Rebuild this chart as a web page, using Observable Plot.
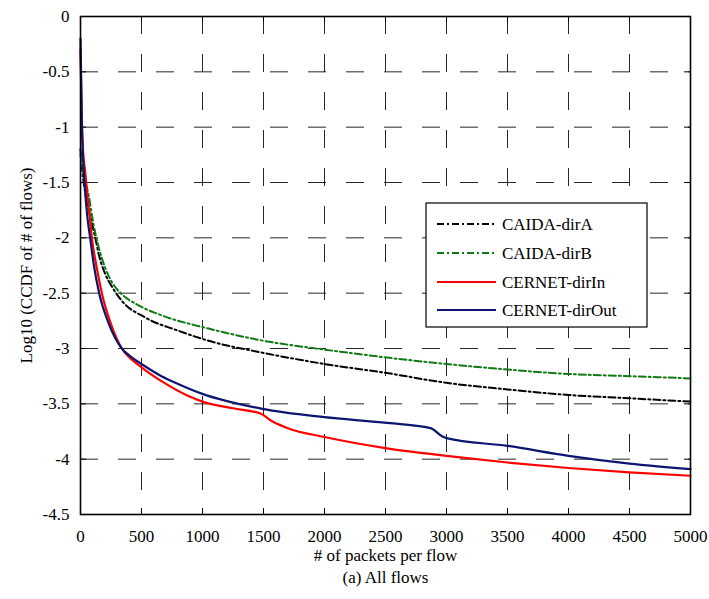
<!DOCTYPE html>
<html>
<head>
<meta charset="utf-8">
<script src="https://cdn.jsdelivr.net/npm/d3@7"></script>
<script src="https://cdn.jsdelivr.net/npm/@observablehq/plot@0.6"></script>
<style>
  html, body { margin: 0; padding: 0; background: #fff; }
  #chart { width: 709px; height: 599px; }
  svg { font-family: "Liberation Serif", "DejaVu Serif", serif; }
</style>
</head>
<body>
<div id="chart"></div>
<script>
const seriesNames = ["CAIDA-dirA", "CAIDA-dirB", "CERNET-dirIn", "CERNET-dirOut"];
const seriesColors = ["#000000", "#0f7a12", "#ff0000", "#0c1670"];
const seriesDash = ["7,3,2,3", "7,3,2,3", null, null];

const xTicks = [0, 500, 1000, 1500, 2000, 2500, 3000, 3500, 4000, 4500, 5000];
const yTicks = [0, -0.5, -1, -1.5, -2, -2.5, -3, -3.5, -4, -4.5];
const yTickLabels = ["0", "-0.5", "-1", "-1.5", "-2", "-2.5", "-3", "-3.5", "-4", "-4.5"];

const caidaA_x = [0, 15, 40, 70, 100, 125, 150, 200, 257, 339, 530, 803, 1050, 1500, 2000, 2500, 3000, 3500, 4000, 4500, 5000];
const caidaA_y = [-1.2, -1.4, -1.6, -1.76, -1.9, -2.02, -2.15, -2.32, -2.44, -2.57, -2.72, -2.84, -2.93, -3.04, -3.14, -3.22, -3.31, -3.37, -3.42, -3.45, -3.48];

const caidaB_x = [0, 20, 66, 107, 148, 202, 257, 339, 476, 664, 1050, 1500, 2000, 2500, 3000, 3500, 4000, 4500, 5000];
const caidaB_y = [-1.25, -1.4, -1.61, -1.88, -2.08, -2.27, -2.4, -2.51, -2.61, -2.7, -2.82, -2.93, -3.01, -3.08, -3.14, -3.19, -3.23, -3.25, -3.27];

const cernetIn_x = [0, 10, 20, 38, 55, 75, 93, 130, 175, 250, 339, 420, 500, 600, 700, 885, 1000, 1250, 1480, 1560, 1700, 2000, 2500, 3000, 3500, 4000, 4500, 5000];
const cernetIn_y = [-0.3, -0.9, -1.2, -1.4, -1.6, -1.8, -2.0, -2.25, -2.5, -2.78, -3.0, -3.1, -3.17, -3.25, -3.32, -3.43, -3.48, -3.54, -3.59, -3.65, -3.72, -3.8, -3.9, -3.97, -4.03, -4.08, -4.12, -4.15];

const cernetOut_x = [0, 10, 20, 33, 55, 79, 110, 153, 230, 339, 420, 500, 664, 800, 1000, 1490, 2000, 2490, 2870, 2960, 3000, 3500, 4000, 4500, 5000];
const cernetOut_y = [-0.2, -0.9, -1.25, -1.5, -1.8, -2.0, -2.25, -2.5, -2.77, -3.0, -3.08, -3.14, -3.25, -3.32, -3.41, -3.545, -3.62, -3.67, -3.72, -3.79, -3.81, -3.88, -3.97, -4.04, -4.09];

const allX = [caidaA_x, caidaB_x, cernetIn_x, cernetOut_x];
const allY = [caidaA_y, caidaB_y, cernetIn_y, cernetOut_y];

const W = 709, H = 599, mL = 80, mR = 19, mT = 16, mB = 85;
const plotW = W - mL - mR, plotH = H - mT - mB;

const lineMarks = seriesNames.map((name, i) => {
  const data = allX[i].map((x, j) => ({x, y: allY[i][j]}));
  return Plot.line(data, {
    x: "x", y: "y",
    curve: "monotone-x",
    stroke: seriesColors[i],
    strokeWidth: i < 2 ? 2 : 2.2,
    strokeDasharray: seriesDash[i] || undefined
  });
});

const fontSize = 17;

const chart = Plot.plot({
  width: W,
  height: H,
  marginLeft: mL,
  marginRight: mR,
  marginTop: mT,
  marginBottom: mB,
  style: {fontFamily: '"Liberation Serif", serif', fontSize: fontSize + "px", background: "#fff", color: "#000"},
  x: {domain: [0, 5000]},
  y: {domain: [-4.5, 0]},
  marks: [
    Plot.gridX(xTicks, {stroke: "#000", strokeOpacity: 0.85, strokeWidth: 1, strokeDasharray: "18,20"}),
    Plot.gridY(yTicks, {stroke: "#000", strokeOpacity: 0.85, strokeWidth: 1, strokeDasharray: "18,20"}),
    // inward ticks (MATLAB style) on all sides
    Plot.tickX(xTicks, {x: d => d, stroke: "#000", insetTop: plotH - 6}),
    Plot.tickX(xTicks, {x: d => d, stroke: "#000", insetBottom: plotH - 6}),
    Plot.tickY(yTicks, {y: d => d, stroke: "#000", insetRight: plotW - 6}),
    Plot.tickY(yTicks, {y: d => d, stroke: "#000", insetLeft: plotW - 6}),
    ...lineMarks,
    Plot.frame({stroke: "#000", strokeWidth: 1.6}),
    Plot.axisX(xTicks, {
      anchor: "bottom", tickSize: 0, tickPadding: 15, fontSize: fontSize,
      tickFormat: d => String(d),
      label: "# of packets per flow", labelAnchor: "center", labelOffset: 46, labelArrow: "none"
    }),
    Plot.axisY(yTicks, {
      anchor: "left", tickSize: 0, tickPadding: 11, fontSize: fontSize,
      tickFormat: d => yTickLabels[yTicks.indexOf(d)],
      label: "Log10 (CCDF of # of flows)", labelAnchor: "center", labelOffset: 61, labelArrow: "none"
    }),
    Plot.text(["(a) All flows"], {frameAnchor: "bottom", dy: 68, fontSize: fontSize, fill: "#000"})
  ]
});

document.getElementById("chart").appendChild(chart);

// Legend (layout overlay inside the SVG)
const svg = d3.select(chart);
const lg = svg.append("g").attr("transform", "translate(426,203)");
lg.append("rect").attr("x", 0).attr("y", 0).attr("width", 221).attr("height", 124)
  .attr("fill", "#fff").attr("stroke", "#000").attr("stroke-width", 1.2);
const rowY = [21, 50, 79, 107];
seriesNames.forEach((name, i) => {
  lg.append("line").attr("x1", 11).attr("x2", 70).attr("y1", rowY[i]).attr("y2", rowY[i])
    .attr("stroke", seriesColors[i]).attr("stroke-width", 2.2)
    .attr("stroke-dasharray", seriesDash[i] || null);
  lg.append("text").attr("x", 76).attr("y", rowY[i]).attr("dy", "0.35em")
    .attr("text-anchor", "start")
    .attr("font-size", fontSize).attr("fill", "#000").text(name);
});
</script>
</body>
</html>
